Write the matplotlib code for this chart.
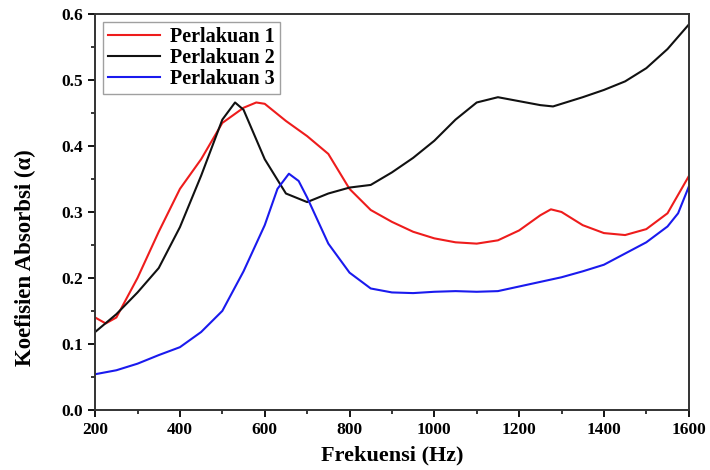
import matplotlib
matplotlib.use("Agg")
import matplotlib.pyplot as plt
from matplotlib.ticker import MultipleLocator

# data
freq1 = [200, 225, 250, 300, 350, 400, 450, 500, 550, 580, 600, 650, 700, 750, 800, 850, 900, 950,
         1000, 1050, 1100, 1150, 1200, 1250, 1275, 1300, 1350, 1400, 1450, 1500, 1550, 1600]
p1 = [0.140, 0.131, 0.140, 0.200, 0.270, 0.335, 0.380, 0.435, 0.458, 0.466, 0.464, 0.438, 0.415,
      0.388, 0.335, 0.303, 0.285, 0.270, 0.260, 0.254, 0.252, 0.257, 0.272, 0.295, 0.304, 0.300,
      0.280, 0.268, 0.265, 0.274, 0.298, 0.354]

freq2 = [200, 250, 300, 350, 400, 450, 500, 530, 550, 600, 650, 700, 750, 800, 850, 900, 950,
         1000, 1050, 1100, 1150, 1200, 1250, 1280, 1350, 1400, 1450, 1500, 1550, 1600]
p2 = [0.118, 0.145, 0.178, 0.215, 0.277, 0.355, 0.440, 0.466, 0.455, 0.380, 0.328, 0.315, 0.328,
      0.337, 0.341, 0.360, 0.382, 0.408, 0.440, 0.466, 0.474, 0.468, 0.462, 0.460, 0.474, 0.485,
      0.498, 0.518, 0.547, 0.584]

freq3 = [200, 250, 300, 350, 400, 450, 500, 525, 550, 575, 600, 630, 657, 680, 700, 750, 800, 850,
         900, 950, 1000, 1050, 1100, 1150, 1200, 1250, 1300, 1350, 1400, 1450, 1500, 1550, 1575, 1600]
p3 = [0.054, 0.060, 0.070, 0.083, 0.095, 0.118, 0.150, 0.180, 0.210, 0.245, 0.280, 0.335, 0.358,
      0.347, 0.322, 0.252, 0.208, 0.184, 0.178, 0.177, 0.179, 0.180, 0.179, 0.180, 0.187, 0.194,
      0.201, 0.210, 0.220, 0.237, 0.254, 0.278, 0.298, 0.338]

plt.rcParams['font.family'] = ['Liberation Serif', 'DejaVu Serif']
plt.rcParams['font.weight'] = 'bold'

fig = plt.figure(figsize=(7.1, 4.7), dpi=100)
ax = fig.add_axes([0.134, 0.128, 0.836, 0.842])

ax.plot(freq1, p1, color='#ee1c1c', lw=1.5, label='Perlakuan 1')
ax.plot(freq2, p2, color='#111111', lw=1.5, label='Perlakuan 2')
ax.plot(freq3, p3, color='#1a1aee', lw=1.5, label='Perlakuan 3')

ax.set_xlim(200, 1600)
ax.set_ylim(0, 0.6)
ax.xaxis.set_major_locator(MultipleLocator(200))
ax.xaxis.set_minor_locator(MultipleLocator(100))
ax.yaxis.set_major_locator(MultipleLocator(0.1))
ax.yaxis.set_minor_locator(MultipleLocator(0.05))
ax.yaxis.set_major_formatter(plt.FormatStrFormatter('%.1f'))
ax.tick_params(which='major', direction='out', length=5, width=1.3, labelsize=12.5)
ax.tick_params(which='minor', direction='out', length=3, width=1.1)
for sp in ax.spines.values():
    sp.set_linewidth(1.4)
    sp.set_color('#333333')

ax.set_xlabel('Frekuensi (Hz)', fontsize=16, fontweight='bold', labelpad=6)
ax.set_ylabel('Koefisien Absorbsi (α)', fontsize=16.5, fontweight='bold')
ax.yaxis.set_label_coords(-0.1, 0.385)

leg = ax.legend(loc='upper left', fontsize=14.5, handlelength=2.6, fancybox=False,
                borderpad=0.25, labelspacing=0.05, handletextpad=0.5,
                borderaxespad=0, bbox_to_anchor=(0.013, 0.98))
leg.get_frame().set_edgecolor('#888888')
leg.get_frame().set_linewidth(1.0)
for t in leg.get_texts():
    t.set_fontweight('bold')

fig.savefig('out.png', dpi=100)
